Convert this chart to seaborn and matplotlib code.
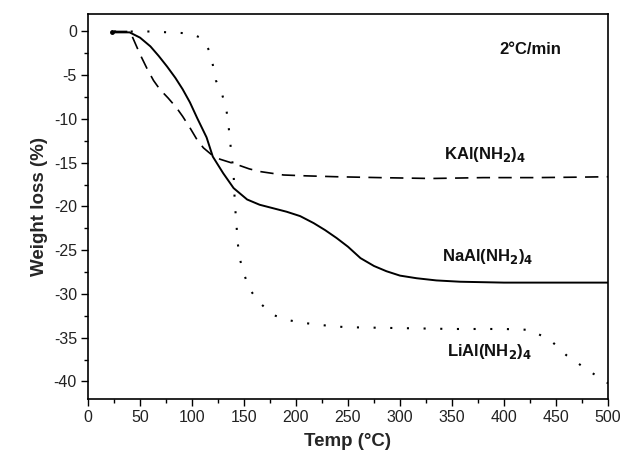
import matplotlib
matplotlib.use("Agg")
import matplotlib.pyplot as plt
from matplotlib.ticker import MultipleLocator
import seaborn as sns
import pandas as pd

sns.set_theme(style="ticks")
plt.rcParams["font.family"] = ["Liberation Sans", "DejaVu Sans"]
plt.rcParams["axes.unicode_minus"] = False

# TGA curves at 2 °C/min: temperature (°C) vs weight loss (%)
na_temp = [23, 30, 40, 50, 60, 68, 76, 84, 91, 98, 105, 114, 120, 130, 140, 153, 165, 178, 191, 204, 217, 228, 239, 250, 262, 275, 287, 300, 316, 335, 358, 400, 450, 500]
na_loss = [-0.1, -0.1, -0.1, -0.7, -1.7, -2.8, -4.0, -5.3, -6.6, -8.1, -9.9, -12.1, -14.3, -16.2, -17.9, -19.2, -19.8, -20.2, -20.6, -21.1, -21.9, -22.7, -23.6, -24.6, -25.9, -26.8, -27.4, -27.9, -28.2, -28.45, -28.6, -28.7, -28.7, -28.7]

k_temp = [25, 35, 40, 43, 50, 57, 63, 69, 77, 85, 91, 98, 105, 111, 119, 127, 135, 143, 155, 165, 188, 210, 239, 280, 330, 380, 430, 470, 500]
k_loss = [0.0, 0.0, 0.0, -0.7, -2.6, -4.3, -5.6, -6.6, -7.6, -8.7, -9.7, -11.0, -12.4, -13.3, -14.1, -14.6, -14.9, -15.2, -15.7, -16.0, -16.4, -16.5, -16.6, -16.7, -16.8, -16.7, -16.7, -16.65, -16.6]

li_temp = [25, 60, 95, 102, 108, 113, 117, 120, 123, 126, 129, 133, 135, 136.5, 138, 139.7, 140.5, 141, 142, 143, 144, 146, 150, 155, 165, 178, 193, 207, 221, 236, 250, 300, 350, 400, 425, 435, 444, 452, 460, 470, 480, 490, 500]
li_loss = [0.0, 0.0, -0.2, -0.4, -0.7, -1.4, -2.3, -3.8, -5.6, -6.4, -7.2, -8.9, -10.6, -12.4, -14.1, -15.8, -17.5, -19.2, -20.9, -22.5, -24.2, -26.0, -27.7, -29.4, -31.0, -32.4, -33.0, -33.3, -33.5, -33.7, -33.8, -33.9, -34.0, -34.0, -34.1, -34.7, -35.2, -36.1, -37.0, -37.8, -38.7, -39.4, -40.2]

fig = plt.figure(figsize=(6.26, 4.62), dpi=100)
ax = fig.add_axes([0.1406, 0.1364, 0.8306, 0.8333])

na = pd.DataFrame({"T": na_temp, "W": na_loss})
k = pd.DataFrame({"T": k_temp, "W": k_loss})
li = pd.DataFrame({"T": li_temp, "W": li_loss})

sns.lineplot(data=na, x="T", y="W", ax=ax, color="black", linewidth=1.4, sort=False)
sns.lineplot(data=k, x="T", y="W", ax=ax, color="black", linewidth=1.2, sort=False,
             linestyle=(0, (8, 5)))
sns.lineplot(data=li, x="T", y="W", ax=ax, color="black", linewidth=1.5, sort=False,
             linestyle=(0, (1, 7)))
ax.plot(na_temp[0], na_loss[0], marker="o", markersize=2.5, color="black")

ax.set_xlim(0, 500)
ax.set_ylim(-42, 2)
ax.xaxis.set_major_locator(MultipleLocator(50))
ax.xaxis.set_minor_locator(MultipleLocator(25))
ax.yaxis.set_major_locator(MultipleLocator(5))
ax.yaxis.set_minor_locator(MultipleLocator(2.5))
ax.tick_params(which="major", direction="out", length=5, width=1.0, labelsize=11.5,
               color="black", labelcolor="#222222", pad=3)
ax.tick_params(which="minor", direction="out", length=3, width=1.0, color="black")
for s in ax.spines.values():
    s.set_linewidth(1.2)
    s.set_color("black")

ax.set_xlabel("Temp (°C)", fontsize=13.5, fontweight="bold", labelpad=6)
ax.set_ylabel("Weight loss (%)", fontsize=13.5, fontweight="bold", labelpad=4)

lab = dict(fontsize=12, fontweight="bold", ha="center", va="center", color="#111111")
ax.text(425, -2.1, "2°C/min", **lab)
ax.text(382, -14.1, r"KAl(NH$_\mathbf{2}$)$_\mathbf{4}$", **lab)
ax.text(384, -25.7, r"NaAl(NH$_\mathbf{2}$)$_\mathbf{4}$", **lab)
ax.text(386, -36.6, r"LiAl(NH$_\mathbf{2}$)$_\mathbf{4}$", **lab)

fig.savefig("out.png", dpi=100)
